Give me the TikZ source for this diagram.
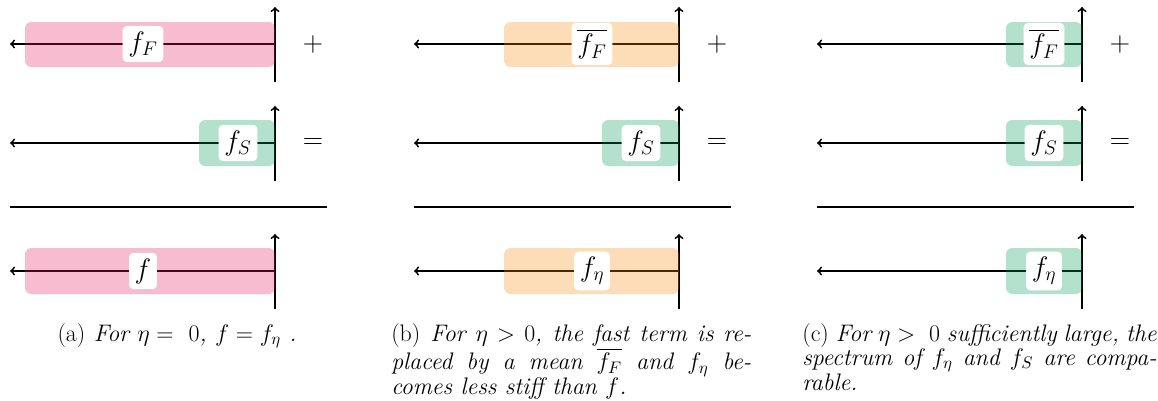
\RequirePackage{fix-cm}
\documentclass[tikz,border=0pt]{standalone}
\usepackage{amsmath}
\usetikzlibrary{arrows}

\definecolor{fastpink}{RGB}{228,32,98}
\definecolor{meanorange}{RGB}{245,142,18}
\definecolor{slowgreen}{RGB}{2,155,88}

\tikzset{
	axis/.style={->, line width=1.3pt},
	sep/.style={line width=1.3pt},
	band/.style={fill opacity=0.3, rounded corners=4.5pt},
	lbl/.style={fill=white, rounded corners=3pt, inner sep=4pt, font=\fontsize{20}{22}\selectfont},
	op/.style={font=\fontsize{20}{22}\selectfont},
	capt/.style={font=\fontsize{17}{13.2}\selectfont\itshape, inner sep=0pt}
}

\begin{document}
\begin{tikzpicture}[x=0.025cm, y=-0.025cm]
	\useasboundingbox (0,0) rectangle (1158,401);
	% axes, rules and signs of the three panels
	\foreach \dx in {0,404,807}{
		\foreach \y in {44,143,271}{
			\draw[axis] (\dx+275,\y) -- (\dx+10,\y);
			\draw[axis] (\dx+275,\y+38) -- (\dx+275,\y-37);
		}
		\draw[sep] (\dx+10,207) -- (\dx+327,207);
		\node[op] (plus\dx) at (\dx+313,44) {$+$};
		\node[op] (eq\dx) at (\dx+313,143) {$=$};
	}
	% (a)
	\fill[band, fastpink] (25,22) rectangle (275,67);
	\fill[band, slowgreen] (199,120) rectangle (275,166);
	\fill[band, fastpink] (25,248) rectangle (275,294);
	\node[lbl] (fFa) at (143,44) {$f_F$};
	\node[lbl] (fSa) at (238,143) {$f_S$};
	\node[lbl] (fa) at (143,271) {$f$};
	% (b)
	\fill[band, meanorange] (504,22) rectangle (679,67);
	\fill[band, slowgreen] (602,120) rectangle (679,166);
	\fill[band, meanorange] (504,248) rectangle (679,294);
	\node[lbl] (fFb) at (592,44) {$\overline{f_F}$};
	\node[lbl] (fSb) at (641,143) {$f_S$};
	\node[lbl] (fetab) at (592,271) {$f_\eta$};
	% (c)
	\fill[band, slowgreen] (1006,22) rectangle (1082,67);
	\fill[band, slowgreen] (1006,120) rectangle (1082,166);
	\fill[band, slowgreen] (1006,248) rectangle (1082,294);
	\node[lbl] (fFc) at (1044,44) {$\overline{f_F}$};
	\node[lbl] (fSc) at (1044,143) {$f_S$};
	\node[lbl] (fetac) at (1044,271) {$f_\eta$};
	% captions
	\node[capt, anchor=base] (capa) at (177,341) {{\upshape(a)} For $\eta = \ 0$, $f = f_\eta$ .};
	\node[capt, anchor=base west, text width=256pt, align=justify] (capb) at (391,341)
		{{\upshape(b)} For $\eta > 0$, the fast term is re-\linebreak placed by a mean $\overline{f_F}$ and $f_\eta$ be-\linebreak comes less stiff than $f$.};
	\node[capt, anchor=base west, text width=252pt, align=justify] (capc) at (802,341)
		{{\upshape(c)} For $\eta > \ 0$ sufficiently large, the\linebreak spectrum of $f_\eta$ and $f_S$ are compa-\linebreak rable.};
\end{tikzpicture}
\end{document}
